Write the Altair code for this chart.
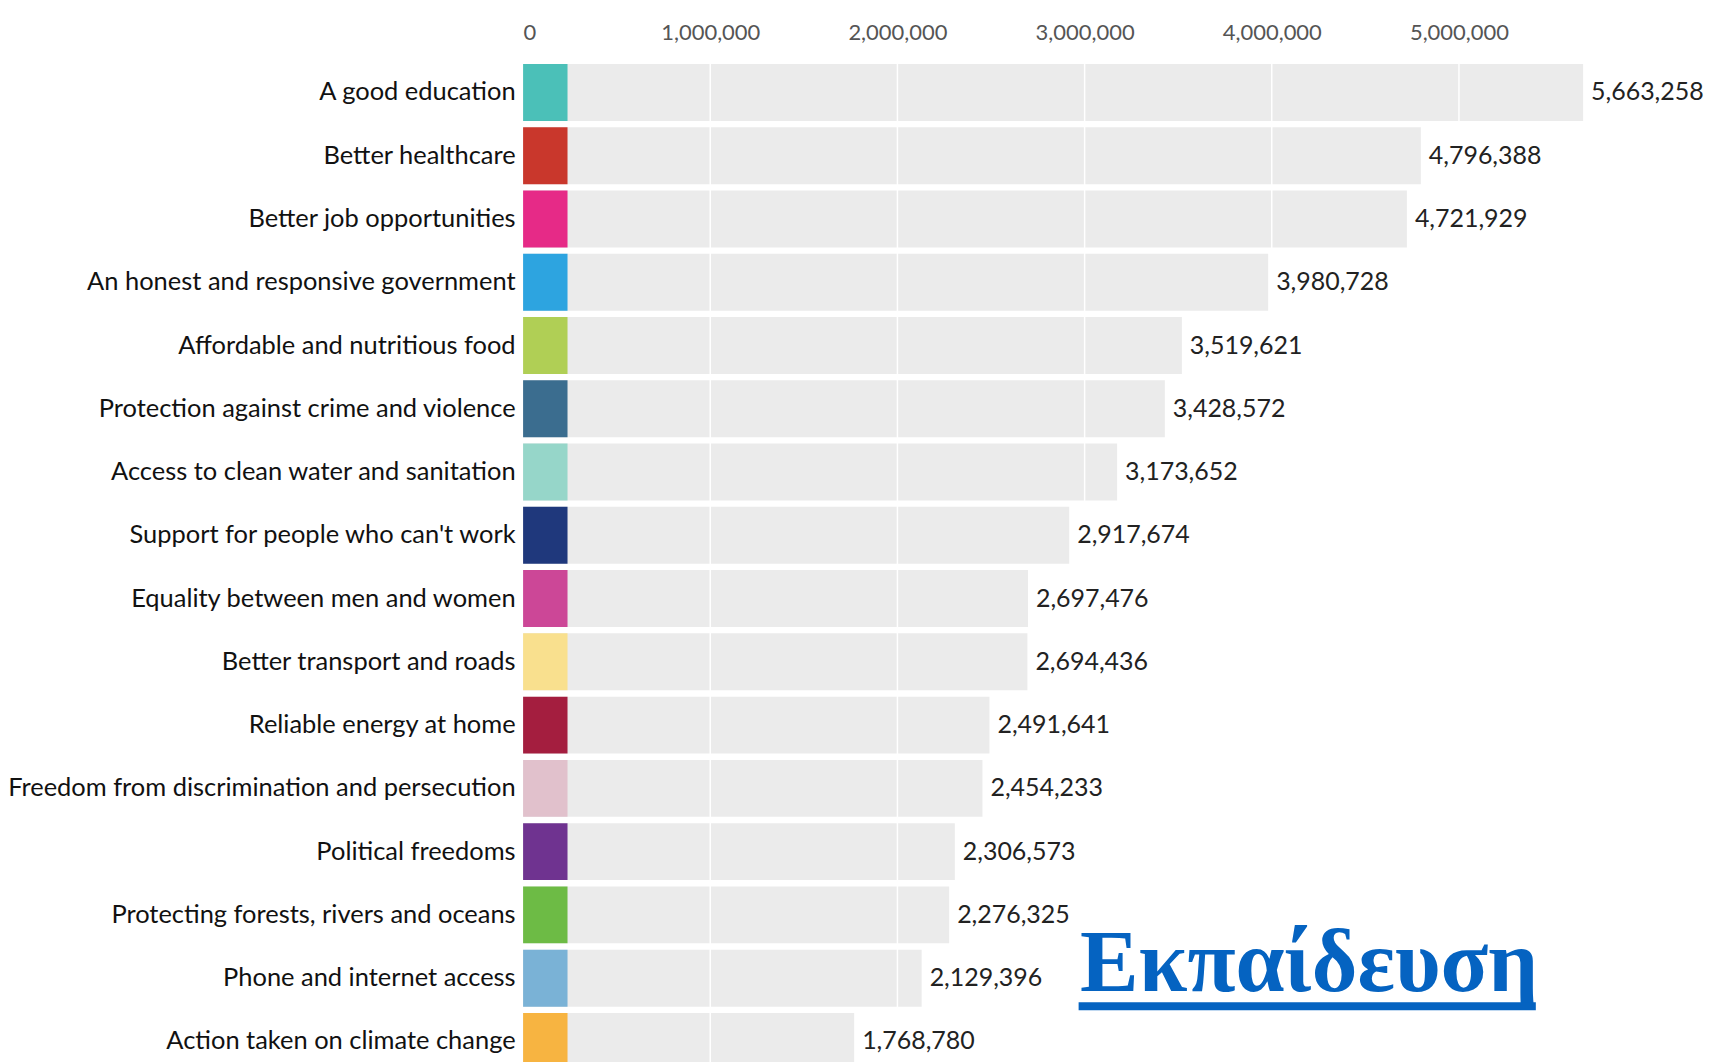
import altair as alt
import pandas as pd

categories = [
    "A good education",
    "Better healthcare",
    "Better job opportunities",
    "An honest and responsive government",
    "Affordable and nutritious food",
    "Protection against crime and violence",
    "Access to clean water and sanitation",
    "Support for people who can't work",
    "Equality between men and women",
    "Better transport and roads",
    "Reliable energy at home",
    "Freedom from discrimination and persecution",
    "Political freedoms",
    "Protecting forests, rivers and oceans",
    "Phone and internet access",
    "Action taken on climate change",
]
votes = [5663258, 4796388, 4721929, 3980728, 3519621, 3428572, 3173652, 2917674,
         2697476, 2694436, 2491641, 2454233, 2306573, 2276325, 2129396, 1768780]
colors = ["#4bc0b8", "#c9372c", "#e62a87", "#2da4e0", "#b0cf55", "#3b6d8f",
          "#96d6c9", "#1f387c", "#cc4797", "#f9e08e", "#a41e3f", "#e1c1cc",
          "#6f3390", "#6dbb45", "#7ab2d6", "#f7b441"]
tick_values = [0, 1000000, 2000000, 3000000, 4000000, 5000000]
annotation = ["Εκπαίδευση"]

df = pd.DataFrame({"category": categories, "votes": votes})
ticks_df = pd.DataFrame({"votes": tick_values[1:]})

y_enc = alt.Y(
    "category:N",
    sort=categories,
    scale=alt.Scale(range=[0, 1014], paddingInner=0.1, paddingOuter=0.05),
    axis=alt.Axis(title=None, ticks=False, domain=False, labelPadding=8,
                  labelFontSize=25.5, labelColor="#111111", labelLimit=0,
                  labelFont="Lato"),
)
x_scale = alt.Scale(domain=[0, 6000000], nice=False)
x_axis = alt.Axis(orient="top", values=tick_values, title=None,
                  labelExpr="format(datum.value, ',')",
                  ticks=False, domain=False, labelFontSize=22,
                  labelColor="#555555", labelPadding=16, labelFont="Lato",
                  grid=False)
x_enc = alt.X("votes:Q", scale=x_scale, axis=x_axis)

base = alt.Chart(df)

gray = base.mark_bar(color="#ebebeb").encode(
    x=x_enc,
    x2=alt.value(49.5),
    y=y_enc,
)

grid = alt.Chart(ticks_df).mark_rule(color="#ffffff", strokeWidth=1.5).encode(
    x=x_enc,
)

squares = base.mark_bar().encode(
    x=alt.value(0),
    x2=alt.value(44.5),
    y=y_enc,
    color=alt.Color("category:N", scale=alt.Scale(domain=categories, range=colors),
                    legend=None),
)

labels = base.mark_text(align="left", baseline="middle", dx=8, fontSize=25,
                        font="Lato", color="#222222").encode(
    x=x_enc,
    y=y_enc,
    text=alt.Text("votes:Q", format=","),
)

title_df = pd.DataFrame({"t": annotation})
greek = alt.Chart(title_df).mark_text(
    align="left", baseline="alphabetic", font="Liberation Serif", fontWeight="bold",
    fontSize=88, color="#0563c1",
).encode(x=alt.value(558), y=alt.value(932), text="t:N")

underline = alt.Chart(title_df).mark_rule(color="#0563c1", strokeWidth=8).encode(
    x=alt.value(556.5), x2=alt.value(1014.5), y=alt.value(947)
)

chart = alt.layer(gray, grid, squares, labels, greek, underline).properties(
    width=1125, height=1006,
    autosize=alt.AutoSizeParams(type="none"),
    padding={"left": 516, "top": 52, "right": 70, "bottom": 0},
).configure(font="Lato", background="#ffffff", view=alt.ViewConfig(stroke=None))

chart.save("out.html", embed_options={"renderer": "svg", "actions": False})
